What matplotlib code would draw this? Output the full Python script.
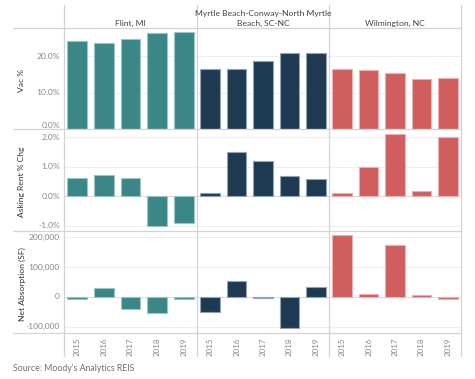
import matplotlib.pyplot as plt
from matplotlib.lines import Line2D
import matplotlib.transforms as mtransforms

plt.rcParams['font.family'] = ['Lato', 'DejaVu Sans']

# data
years = ["2015", "2016", "2017", "2018", "2019"]
markets = ["Flint, MI", "Myrtle Beach-Conway-North Myrtle\nBeach, SC-NC", "Wilmington, NC"]
colors = ["#3b8686", "#1d3a52", "#d15e5e"]
edges = ["#9cc6c6", "#8fa4b6", "#eeb0b0"]

vac_flint = [24.2, 23.5, 24.6, 26.2, 26.5]
vac_myrtle = [16.4, 16.5, 18.7, 20.8, 20.8]
vac_wilm = [16.5, 16.3, 15.4, 13.6, 13.9]

rent_flint = [0.61, 0.71, 0.61, -1.01, -0.91]
rent_myrtle = [0.10, 1.49, 1.20, 0.69, 0.59]
rent_wilm = [0.10, 0.99, 2.10, 0.19, 2.00]

absorp_flint = [-7000, 31000, -41000, -54000, -7000]
absorp_myrtle = [-49000, 53000, -2000, -105000, 33000]
absorp_wilm = [206000, 9000, 173000, 7000, -7000]

rows = [
    ("Vac %", [vac_flint, vac_myrtle, vac_wilm], (0, 27.7), [0, 10, 20],
     lambda v: "%.1f%%" % v),
    ("Asking Rent % Chg", [rent_flint, rent_myrtle, rent_wilm], (-1.17, 2.27), [-1, 0, 1, 2],
     lambda v: "%.1f%%" % v),
    ("Net Absorption (SF)", [absorp_flint, absorp_myrtle, absorp_wilm], (-121000, 221000),
     [-100000, 0, 100000, 200000], lambda v: "{:,.0f}".format(v)),
]

W, H = 475, 379
fig = plt.figure(figsize=(W / 100, H / 100), dpi=100)

col_x = [64, 197, 329, 461]
row_y = [28, 129, 231, 333]
line_col = "#d4d4d4"
grid_col = "#efefef"
tick_col = "#888888"
tick_size = 6.1


def fx(x):
    return x / W


def fy(y):
    return 1 - y / H


for r, (label, series, ylim, ticks, fmt) in enumerate(rows):
    for c in range(3):
        ax = fig.add_axes([fx(col_x[c]), fy(row_y[r + 1]),
                           fx(col_x[c + 1] - col_x[c]), (row_y[r + 1] - row_y[r]) / H])
        ax.set_xlim(-0.5, 4.5)
        ax.set_ylim(*ylim)
        for t in ticks:
            ax.axhline(t, color="#dcdcdc" if t == 0 else grid_col, lw=0.8, zorder=0)
        ax.bar(range(5), series[c], width=0.74, color=colors[c],
               edgecolor=edges[c], linewidth=0.8, zorder=2)
        for s in ax.spines.values():
            s.set_visible(False)
        ax.set_yticks(ticks)
        ax.tick_params(axis="y", length=0, labelleft=False)
        if c == 0:
            # tick labels drawn by hand so the bottom one of the top row can sit inside
            trans = mtransforms.blended_transform_factory(ax.transAxes, ax.transData)
            for t in ticks:
                va = "center"
                if r == 0 and t == ylim[0]:
                    va = "bottom"
                ax.text(-0.03, t, fmt(t), transform=trans, ha="right", va=va,
                        fontsize=tick_size, color=tick_col)
        if r == 2:
            ax.set_xticks(range(5))
            ax.set_xticklabels(years, rotation=90, fontsize=tick_size - 0.3, color=tick_col)
            ax.tick_params(axis="x", length=0, pad=3)
        else:
            ax.set_xticks([])
        ax.patch.set_alpha(0)
        if r == 0:
            fig.text(fx((col_x[c] + col_x[c + 1]) / 2), fy(26), markets[c],
                     ha="center", va="baseline", fontsize=6.1, color="#444444",
                     linespacing=1.45)
    fig.text(fx(22), fy((row_y[r] + row_y[r + 1]) / 2 + 2), label, rotation=90,
             ha="center", va="center", fontsize=6.1, color="#333333")

# table frame lines
for y in row_y:
    fig.add_artist(Line2D([fx(13), fx(461)], [fy(y), fy(y)], color=line_col, lw=0.9,
                          transform=fig.transFigure))
for x in col_x:
    fig.add_artist(Line2D([fx(x), fx(x)], [fy(5), fy(356)], color=line_col, lw=0.9,
                          transform=fig.transFigure))

fig.text(fx(13), fy(368), "Source: Moody\u2019s Analytics REIS", ha="left", va="center",
         fontsize=6.3, color="#707070")

fig.savefig("out.png", dpi=100)
